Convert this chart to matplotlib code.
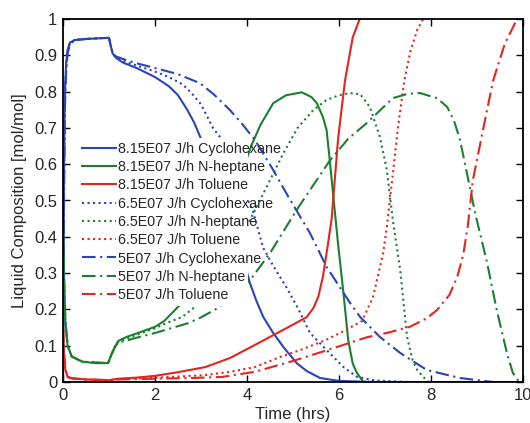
import matplotlib
matplotlib.use("Agg")
import matplotlib.pyplot as plt
from matplotlib.patches import Rectangle

plt.rcParams['font.family'] = ['Liberation Sans', 'DejaVu Sans']

# ---------------- data ----------------
labels = ["8.15E07 J/h Cyclohexane", "8.15E07 J/h N-heptane", "8.15E07 J/h Toluene",
          "6.5E07 J/h Cyclohexane", "6.5E07 J/h N-heptane", "6.5E07 J/h Toluene",
          "5E07 J/h Cyclohexane", "5E07 J/h N-heptane", "5E07 J/h Toluene"]

# 8.15E07 J/h
t_cyc_815 = [0, 0.02, 0.04, 0.07, 0.1, 0.15, 0.25, 0.5, 0.8, 1.0, 1.04, 1.08, 1.15, 1.3, 1.6, 2.0,
             2.3, 2.5, 2.7, 2.85, 3.0, 3.3, 3.6, 3.85, 4.07, 4.2, 4.35, 4.57, 4.8, 5.08, 5.3, 5.59,
             6.0, 6.5, 7.0, 8.0, 9.0, 10.0]
y_cyc_815 = [0, 0.55, 0.8, 0.88, 0.915, 0.935, 0.942, 0.945, 0.947, 0.948, 0.925, 0.905, 0.893,
             0.88, 0.865, 0.84, 0.815, 0.79, 0.75, 0.715, 0.67, 0.59, 0.48, 0.37, 0.27, 0.225, 0.18,
             0.135, 0.095, 0.052, 0.03, 0.011, 0.003, 0.001, 0, 0, 0, 0]
t_hep_815 = [0, 0.02, 0.05, 0.1, 0.19, 0.42, 0.7, 0.98, 1.05, 1.13, 1.2, 1.4, 1.63, 2.0, 2.2, 2.37,
             2.54, 2.8, 3.1, 3.4, 3.7, 3.95, 4.1, 4.3, 4.57, 4.85, 5.19, 5.4, 5.52, 5.65, 5.73, 5.8,
             5.87, 5.98, 6.09, 6.2, 6.3, 6.39, 6.53]
y_hep_815 = [0.42, 0.3, 0.17, 0.1, 0.07, 0.056, 0.052, 0.052, 0.075, 0.097, 0.113, 0.125, 0.135,
             0.152, 0.168, 0.19, 0.212, 0.26, 0.33, 0.42, 0.52, 0.6, 0.653, 0.71, 0.768, 0.79,
             0.798, 0.785, 0.768, 0.73, 0.694, 0.61, 0.52, 0.38, 0.253, 0.116, 0.05, 0.025, 0]
t_tol_815 = [0, 0.02, 0.05, 0.1, 0.2, 0.5, 1.0, 1.2, 1.6, 2.0, 2.5, 3.09, 3.63, 4.17, 4.57, 5.0,
             5.3, 5.45, 5.55, 5.65, 5.76, 5.84, 5.98, 6.13, 6.3, 6.45]
y_tol_815 = [0.15, 0.08, 0.035, 0.014, 0.01, 0.007, 0.005, 0.009, 0.012, 0.017, 0.027, 0.041,
             0.066, 0.102, 0.129, 0.158, 0.179, 0.205, 0.235, 0.29, 0.38, 0.45, 0.67, 0.83, 0.95, 1.0]

# 6.5E07 J/h
t_cyc_65 = [0, 0.02, 0.04, 0.07, 0.1, 0.15, 0.25, 0.5, 0.8, 1.0, 1.04, 1.08, 1.15, 1.3, 1.6, 2.0,
            2.3, 2.6, 2.8, 3.0, 3.26, 3.41, 3.8, 4.13, 4.22, 4.35, 4.57, 4.86, 5.08, 5.37, 5.73,
            6.09, 6.39, 6.8, 7.5]
y_cyc_65 = [0, 0.5, 0.78, 0.87, 0.91, 0.932, 0.942, 0.945, 0.947, 0.948, 0.925, 0.905, 0.895,
            0.885, 0.872, 0.855, 0.84, 0.82, 0.795, 0.765, 0.70, 0.675, 0.56, 0.47, 0.43, 0.37,
            0.32, 0.26, 0.21, 0.135, 0.088, 0.042, 0.014, 0.004, 0]
t_hep_65 = [0, 0.02, 0.05, 0.1, 0.19, 0.42, 0.98, 1.05, 1.13, 1.2, 1.6, 2.0, 2.3, 2.59, 2.87, 3.3,
            3.8, 4.28, 4.79, 5.1, 5.44, 5.73, 6.0, 6.24, 6.46, 6.67, 6.89, 7.04, 7.17, 7.33, 7.48,
            7.6, 7.7, 7.83, 7.95]
y_hep_65 = [0.42, 0.3, 0.17, 0.1, 0.07, 0.056, 0.052, 0.075, 0.097, 0.11, 0.13, 0.148, 0.165,
            0.179, 0.207, 0.27, 0.38, 0.50, 0.63, 0.70, 0.749, 0.777, 0.79, 0.796, 0.793, 0.758,
            0.675, 0.584, 0.446, 0.309, 0.124, 0.06, 0.033, 0.014, 0]
t_tol_65 = [0, 0.02, 0.05, 0.1, 0.2, 0.5, 1.0, 1.2, 2.0, 2.5, 3.09, 3.63, 4.17, 4.72, 5.2, 5.7,
            6.1, 6.5, 6.74, 6.96, 7.04, 7.15, 7.28, 7.42, 7.55, 7.7, 7.83]
y_tol_65 = [0.15, 0.08, 0.035, 0.014, 0.01, 0.007, 0.005, 0.008, 0.012, 0.015, 0.019, 0.028,
            0.041, 0.069, 0.09, 0.115, 0.14, 0.168, 0.234, 0.355, 0.427, 0.55, 0.70, 0.83, 0.91,
            0.97, 1.0]

# 5E07 J/h
t_cyc_5 = [0, 0.02, 0.04, 0.07, 0.1, 0.15, 0.25, 0.5, 0.8, 1.0, 1.04, 1.08, 1.15, 1.3, 1.6, 2.0,
           2.5, 2.98, 3.3, 3.63, 3.9, 4.17, 4.57, 4.9, 5.37, 5.73, 6.24, 6.46, 6.89, 7.33, 7.91,
           8.63, 9.35]
y_cyc_5 = [0, 0.45, 0.75, 0.86, 0.905, 0.93, 0.942, 0.945, 0.947, 0.948, 0.925, 0.905, 0.897,
           0.89, 0.878, 0.865, 0.848, 0.823, 0.79, 0.749, 0.71, 0.667, 0.584, 0.51, 0.41, 0.317,
           0.218, 0.179, 0.124, 0.08, 0.033, 0.011, 0]
t_hep_5 = [0, 0.02, 0.05, 0.1, 0.19, 0.42, 0.98, 1.05, 1.13, 1.2, 1.6, 2.0, 2.4, 2.72, 3.0, 3.37,
           3.7, 4.07, 4.5, 5.08, 5.37, 5.8, 6.2, 6.6, 7.17, 7.5, 7.76, 8.13, 8.35, 8.5, 8.63, 8.78,
           8.96, 9.22, 9.43, 9.65, 9.78, 9.89, 9.95]
y_hep_5 = [0.42, 0.3, 0.17, 0.1, 0.07, 0.056, 0.052, 0.075, 0.097, 0.108, 0.122, 0.135, 0.15,
           0.162, 0.178, 0.204, 0.24, 0.281, 0.355, 0.474, 0.529, 0.61, 0.67, 0.713, 0.782, 0.794,
           0.796, 0.782, 0.758, 0.72, 0.667, 0.576, 0.465, 0.328, 0.198, 0.08, 0.025, 0.005, 0]
t_tol_5 = [0, 0.02, 0.05, 0.1, 0.2, 0.5, 1.0, 1.2, 2.0, 2.8, 3.46, 4.17, 5.08, 5.8, 6.6, 7.1,
           7.54, 7.9, 8.13, 8.4, 8.57, 8.7, 8.8, 8.91, 9.13, 9.35, 9.6, 9.87]
y_tol_5 = [0.15, 0.08, 0.035, 0.014, 0.01, 0.007, 0.005, 0.007, 0.009, 0.011, 0.014, 0.028,
           0.061, 0.09, 0.123, 0.137, 0.152, 0.175, 0.198, 0.24, 0.289, 0.35, 0.43, 0.556, 0.694,
           0.83, 0.93, 1.0]

x_ticks = [0, 2, 4, 6, 8, 10]
y_ticks = [0, 0.1, 0.2, 0.3, 0.4, 0.5, 0.6, 0.7, 0.8, 0.9, 1]
y_ticklabels = ["0", "0.1", "0.2", "0.3", "0.4", "0.5", "0.6", "0.7", "0.8", "0.9", "1"]

# ---------------- styling ----------------
BLUE = '#2a44b8'
GREEN = '#1a8030'
RED = '#e5241d'
DASHDOT = (0, (6.5, 2.2, 1.0, 2.2))
LW = 1.5

series = [
    (t_cyc_815, y_cyc_815, BLUE, '-'), (t_hep_815, y_hep_815, GREEN, '-'), (t_tol_815, y_tol_815, RED, '-'),
    (t_cyc_65, y_cyc_65, BLUE, ':'), (t_hep_65, y_hep_65, GREEN, ':'), (t_tol_65, y_tol_65, RED, ':'),
    (t_cyc_5, y_cyc_5, BLUE, DASHDOT), (t_hep_5, y_hep_5, GREEN, DASHDOT), (t_tol_5, y_tol_5, RED, DASHDOT),
]

fig = plt.figure(figsize=(5.30, 4.23), dpi=100)
ax = fig.add_axes([63/530, 41/423, 460/530, 363/423])

handles = []
for (t, y, c, ls), lab in zip(series, labels):
    h, = ax.plot(t, y, color=c, linestyle=ls, linewidth=LW, label=lab)
    handles.append(h)

ax.set_xlim(0, 10)
ax.set_ylim(0, 1)
ax.set_xticks(x_ticks)
ax.set_yticks(y_ticks)
ax.set_yticklabels(y_ticklabels)
ax.tick_params(direction='in', top=True, right=True, length=5, width=1.0,
               labelsize=12, labelcolor='#262626', pad=4)
for s in ax.spines.values():
    s.set_linewidth(1.3)
    s.set_color('black')

ax.set_xlabel("Time (hrs)", fontsize=12, color='#262626', labelpad=3.5)
ax.set_ylabel("Liquid Composition [mol/mol]", fontsize=12, color='#262626', labelpad=5)

# opaque legend background (narrower than the texts, as in the reference)
ax.add_patch(Rectangle((0.026, 0.209), 0.376, 0.463, transform=ax.transAxes,
                       facecolor='white', edgecolor='none', zorder=3))
leg = ax.legend(handles=handles, loc='center left', bbox_to_anchor=(0.041, 0.441),
                frameon=False, fontsize=10.3, labelspacing=0.3, handlelength=2.4,
                handletextpad=0.1, borderpad=0, borderaxespad=0)
leg.set_zorder(5)
for txt in leg.get_texts():
    txt.set_color('#262626')

fig.savefig("out.png", dpi=100)
